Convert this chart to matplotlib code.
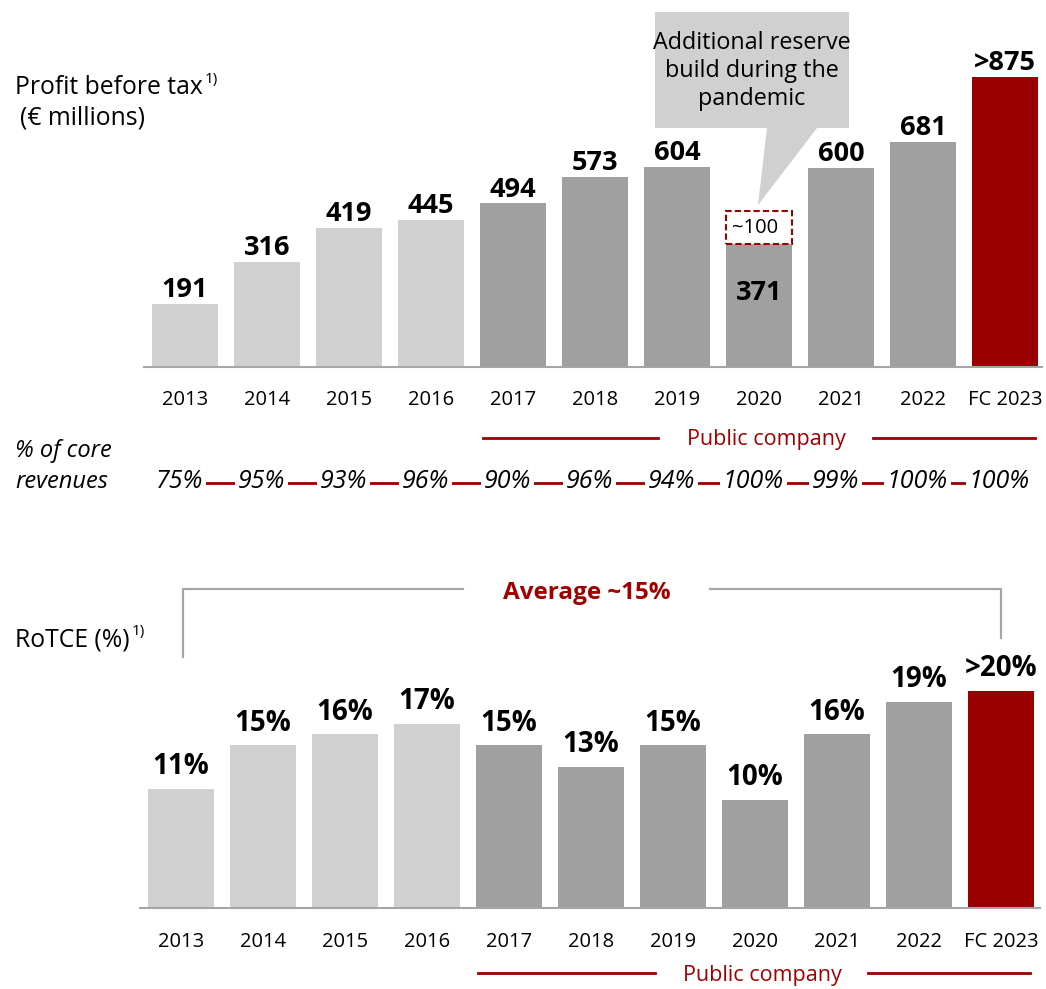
import matplotlib
matplotlib.use("Agg")
import matplotlib.pyplot as plt
from matplotlib.patches import Polygon
from matplotlib.lines import Line2D
import matplotlib.transforms as mtransforms

plt.rcParams['font.family'] = ['Open Sans', 'DejaVu Sans']

# ---------------- data ----------------
years = ["2013", "2014", "2015", "2016", "2017", "2018", "2019", "2020", "2021", "2022", "FC 2023"]
pbt = [191, 316, 419, 445, 494, 573, 604, 371, 600, 681, 875]
pbt_labels = ["191", "316", "419", "445", "494", "573", "604", "371", "600", "681", ">875"]
reserve_2020 = 100
core_rev = ["75%", "95%", "93%", "96%", "90%", "96%", "94%", "100%", "99%", "100%", "100%"]
rotce = [11, 15, 16, 17, 15, 13, 15, 10, 16, 19, 20]
rotce_labels = ["11%", "15%", "16%", "17%", "15%", "13%", "15%", "10%", "16%", "19%", ">20%"]
phase = ["pre", "pre", "pre", "pre", "pub", "pub", "pub", "pub", "pub", "pub", "fc"]

LIGHT = "#d0d0d0"
DARK = "#a0a0a0"
RED = "#990000"
TRED = "#a00000"
colors = [{"pre": LIGHT, "pub": DARK, "fc": RED}[p] for p in phase]

W, H = 1046, 989
fig = plt.figure(figsize=(W / 100, H / 100), dpi=100)


def fx(px):
    return px / W


def fy(py):
    return 1 - py / H


x = list(range(len(years)))
BW = 0.805

# ---------------- top chart ----------------
ax1 = fig.add_axes([fx(144), fy(367), (1042 - 144) / W, 367 / H])
ax1.bar(x, pbt, width=BW, color=colors, zorder=2)
# dashed reserve box (2020)
i20 = years.index("2020")
ax1.bar([i20], [reserve_2020], bottom=[pbt[i20]], width=BW, facecolor="none",
        edgecolor=RED, linestyle=(0, (3, 1.5)), linewidth=1.5, zorder=3)
ax1.text(i20 - 0.05, pbt[i20] + reserve_2020 / 2, "~100", ha="center", va="center",
         fontsize=14.5, color="black", zorder=4)
ax1.set_xlim(-0.5, (1042 - 185) / 82)
ax1.set_ylim(0, 367 / 0.331)
for i, (v, lab) in enumerate(zip(pbt, pbt_labels)):
    if i == i20:
        ax1.annotate(lab, (i, v), xytext=(0, -35), textcoords="offset points",
                     ha="center", va="center", fontsize=19.5, fontweight="bold")
    else:
        ax1.annotate(lab, (i, v), xytext=(0, 5), textcoords="offset points",
                     ha="center", va="baseline", fontsize=19.5, fontweight="bold")
ax1.set_xticks(x)
ax1.set_xticklabels(years, fontsize=14.5)
ax1.tick_params(axis="x", length=0, pad=16.5)
ax1.set_yticks([])
for s in ["top", "left", "right"]:
    ax1.spines[s].set_visible(False)
ax1.spines["bottom"].set_color("#a6a6a6")
ax1.spines["bottom"].set_linewidth(1.5)
ax1.patch.set_alpha(0)

# ---------------- bottom chart ----------------
ax2 = fig.add_axes([fx(140), fy(908), (1040 - 140) / W, (908 - 650) / H])
ax2.bar(x, rotce, width=BW, color=colors, zorder=2)
ax2.set_xlim(-0.5, (1040 - 181) / 82)
ax2.set_ylim(0, 258 / 10.85)
for i, (v, lab) in enumerate(zip(rotce, rotce_labels)):
    ax2.annotate(lab, (i, v), xytext=(0, 10.5), textcoords="offset points",
                 ha="center", va="baseline", fontsize=20, fontweight="bold")
ax2.set_xticks(x)
ax2.set_xticklabels(years, fontsize=14.5)
ax2.tick_params(axis="x", length=0, pad=17)
ax2.set_yticks([])
for s in ["top", "left", "right"]:
    ax2.spines[s].set_visible(False)
ax2.spines["bottom"].set_color("#a6a6a6")
ax2.spines["bottom"].set_linewidth(1.5)
ax2.patch.set_alpha(0)

# ---------------- labels ----------------
t1 = fig.text(fx(15), fy(88), "Profit before tax", fontsize=17.8, va="center", ha="left")
ax1.annotate("1)", xy=(1, 1), xycoords=t1, xytext=(1.5, -3), textcoords="offset points",
             fontsize=11, va="center", ha="left", annotation_clip=False)
fig.text(fx(20), fy(118), "(€ millions)", fontsize=17.8, va="center", ha="left")

t2 = fig.text(fx(15), fy(640), "RoTCE (%)", fontsize=17.8, va="center", ha="left")
ax2.annotate("1)", xy=(1, 1), xycoords=t2, xytext=(1.5, -3), textcoords="offset points",
             fontsize=11, va="center", ha="left", annotation_clip=False)

# callout
pts = [(655, 12), (849, 12), (849, 128), (817, 128), (758, 205), (767, 128), (655, 128)]
fig.patches.append(Polygon([(fx(a), fy(b)) for a, b in pts], closed=True,
                           transform=fig.transFigure, facecolor="#d0d0d0",
                           edgecolor="none", zorder=0))
fig.text(fx(752), fy(71), "Additional reserve\nbuild during the\npandemic", fontsize=16.8,
         ha="center", va="center", linespacing=1.2)

# public company rows
def public_row(ax, y, seg1, seg2, xt):
    tr = mtransforms.blended_transform_factory(ax.transData, fig.transFigure)
    for a, b in (seg1, seg2):
        fig.lines.append(Line2D([(a - xt[0]) / 82, (b - xt[0]) / 82], [fy(y), fy(y)],
                                transform=tr, color=RED, linewidth=2))
    fig.text(fx(xt[1]), fy(y + 2), "Public company", fontsize=15.5, color=TRED,
             ha="center", va="center")

public_row(ax1, 438, (483, 658), (873, 1035), (185, 766))
public_row(ax2, 973, (478, 655), (868, 1030), (181, 762))

# % of core revenues
fig.text(fx(15), fy(451), "% of core", fontsize=17, style="italic", va="center")
fig.text(fx(15), fy(482), "revenues", fontsize=17, style="italic", va="center")
tr1 = mtransforms.blended_transform_factory(ax1.transData, fig.transFigure)
fig.lines.append(Line2D([0, len(years) - 1], [fy(483), fy(483)], transform=tr1,
                        color=RED, linewidth=2, zorder=1))
for i, lab in enumerate(core_rev):
    fig.text(i - 0.07, fy(482), lab, transform=tr1, fontsize=18, style="italic",
             ha="center", va="center", zorder=3,
             bbox=dict(facecolor="white", edgecolor="none", pad=2.0))

# average bracket
br = "#a6a6a6"
fig.lines.append(Line2D([fx(183), fx(183), fx(463)], [fy(657), fy(589), fy(589)],
                        transform=fig.transFigure, color=br, linewidth=1.6))
fig.lines.append(Line2D([fx(710), fx(1001), fx(1001)], [fy(589), fy(589), fy(638)],
                        transform=fig.transFigure, color=br, linewidth=1.6))
fig.text(fx(587), fy(593), "Average ~15%", fontsize=17.5, fontweight="bold", color=TRED,
         ha="center", va="center")

fig.savefig("out.png", dpi=100)
